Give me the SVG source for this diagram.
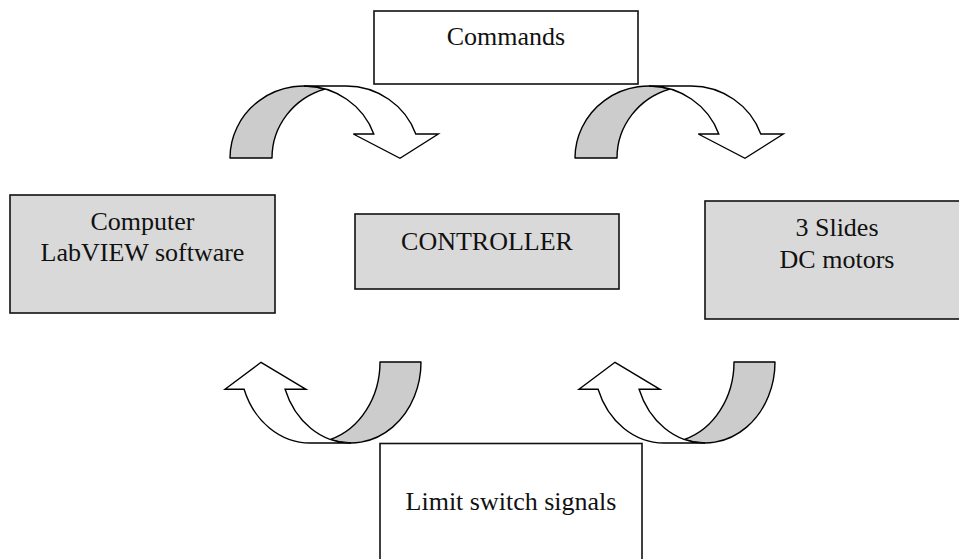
<svg xmlns="http://www.w3.org/2000/svg" width="959" height="559" viewBox="0 0 959 559">
  <style>
    .box { stroke: #111; stroke-width: 1.6; }
    .plain { fill: #ffffff; }
    .shaded { fill: #d9d9d9; }
    .label { font-family: "Liberation Serif", "Times New Roman", serif; font-size: 26px; fill: #111; text-anchor: middle; }
    .band-back { fill: #cccccc; stroke: #000; stroke-width: 1.4; stroke-linejoin: round; }
    .band-front { fill: #ffffff; stroke: #000; stroke-width: 1.4; stroke-linejoin: miter; }
  </style>
  <defs>
    <!-- curved arrow bending down to the right: shaded back leg + white front leg with head -->
    <g id="curve-down">
      <path class="band-back" d="M230,158 A74,72 0 0 1 325,88.96 A74,72 0 0 0 272,158 Z"/>
      <path class="band-front" d="M304,86 L346,86 A74,72 0 0 1 415.77,134 L438.3,134 L400,158.3 L353.3,134 L373.77,134 A74,72 0 0 0 304,86 Z"/>
    </g>
    <!-- curved arrow bending up to the left -->
    <g id="curve-up">
      <path class="band-back" d="M421,362 A70,81 0 0 1 330.5,439.45 A70,81 0 0 0 380,362 Z"/>
      <path class="band-front" d="M351,443 L310,443 A70,81 0 0 1 244.1,389.3 L225,389.3 L261,362.3 L306,389.3 L285.1,389.3 A70,81 0 0 0 351,443 Z"/>
    </g>
  </defs>

  <rect width="959" height="559" fill="#ffffff"/>

  <g id="connectors">
    <use href="#curve-down"/>
    <use href="#curve-down" x="345"/>
    <use href="#curve-up"/>
    <use href="#curve-up" x="354"/>
  </g>

  <g id="commands">
    <rect class="box plain" x="374" y="11" width="264" height="73"/>
    <text class="label" x="506" y="45">Commands</text>
  </g>

  <g id="computer">
    <rect class="box shaded" x="10" y="195" width="265" height="118"/>
    <text class="label" x="142.5" y="230">Computer</text>
    <text class="label" x="142.5" y="261">LabVIEW software</text>
  </g>

  <g id="controller">
    <rect class="box shaded" x="355" y="214" width="264" height="75"/>
    <text class="label" x="487" y="250">CONTROLLER</text>
  </g>

  <g id="slides">
    <rect class="box shaded" x="705" y="201" width="265" height="118"/>
    <text class="label" x="837" y="236">3 Slides</text>
    <text class="label" x="837" y="268">DC motors</text>
  </g>

  <g id="limit-switches">
    <rect class="box plain" x="380" y="443.5" width="262" height="130"/>
    <text class="label" x="511" y="510">Limit switch signals</text>
  </g>
</svg>
